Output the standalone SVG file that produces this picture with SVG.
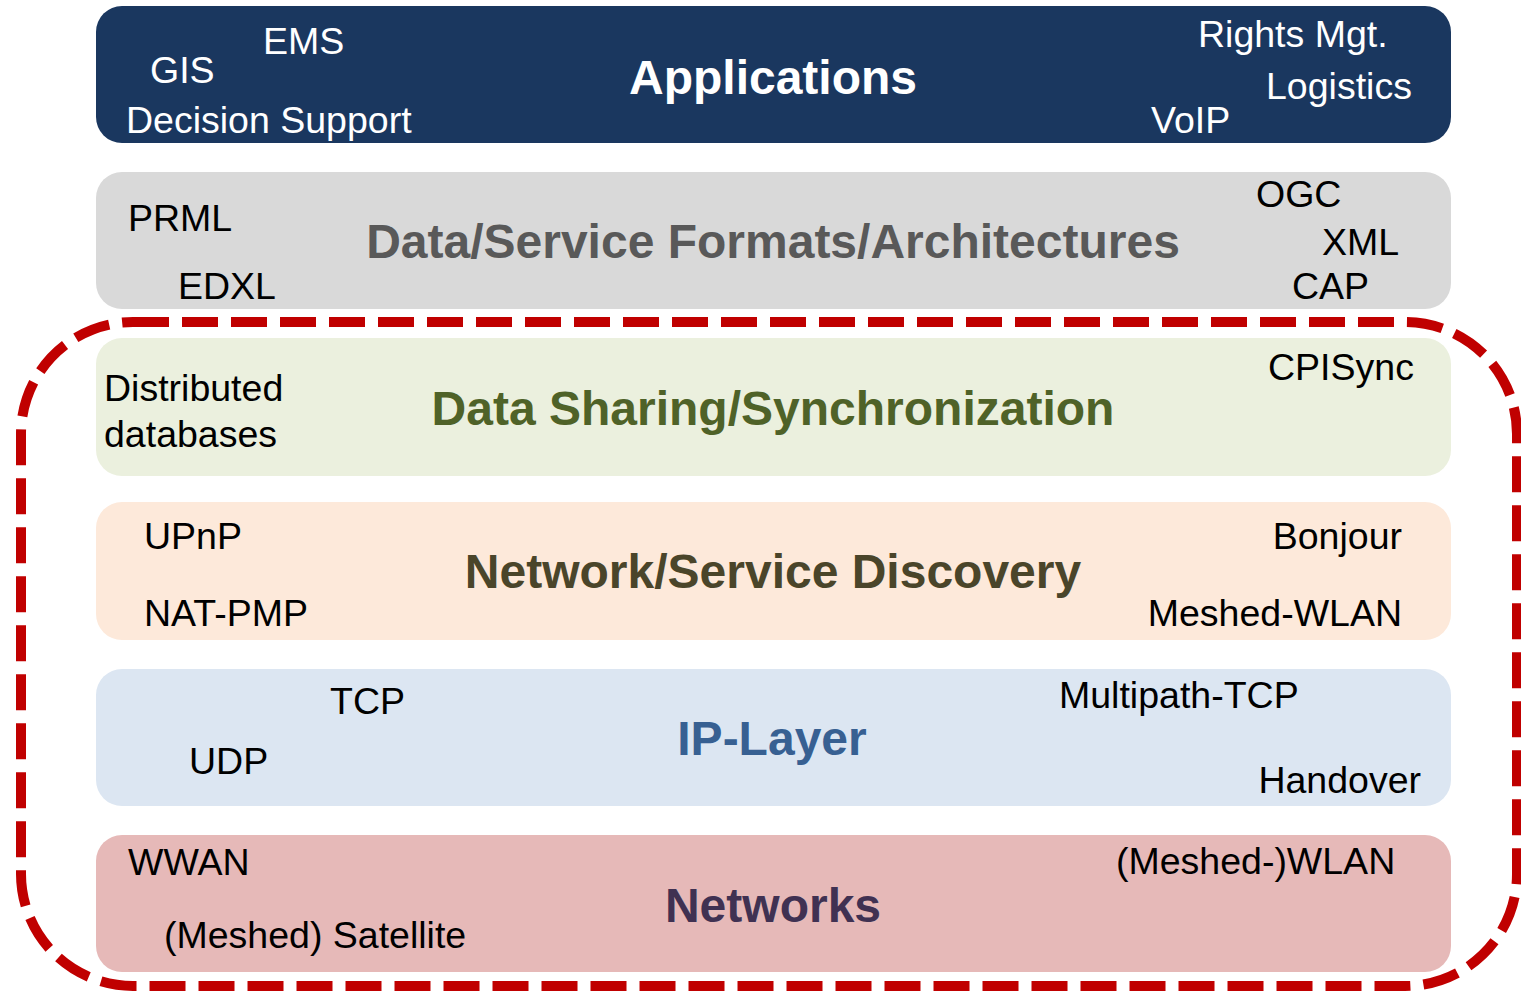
<svg xmlns="http://www.w3.org/2000/svg" width="1521" height="991" viewBox="0 0 1521 991">
  <style>
    .layer { stroke: none; }
    .title { font-family: "Liberation Sans", Arial, sans-serif; font-weight: bold; font-size: 48px; text-anchor: middle; }
    .item { font-family: "Liberation Sans", Arial, sans-serif; font-size: 37.5px; fill: #000000; }
    .item-light { fill: #ffffff; }
    .end { text-anchor: end; }
    .scope { fill: none; stroke: #c00000; stroke-width: 10; stroke-dasharray: 36 13; }
  </style>

  <rect width="1521" height="991" fill="#ffffff"/>

  <!-- Applications -->
  <g id="applications">
    <rect class="layer" x="96" y="6" width="1355" height="137" rx="26" fill="#1a375f"/>
    <text class="title" x="773" y="94" fill="#ffffff">Applications</text>
    <text class="item item-light" x="263" y="54">EMS</text>
    <text class="item item-light" x="150" y="83">GIS</text>
    <text class="item item-light" x="126" y="133">Decision Support</text>
    <text class="item item-light" x="1198" y="47">Rights Mgt.</text>
    <text class="item item-light" x="1266" y="99">Logistics</text>
    <text class="item item-light" x="1151" y="133">VoIP</text>
  </g>

  <!-- Data/Service Formats/Architectures -->
  <g id="formats">
    <rect class="layer" x="96" y="172" width="1355" height="137" rx="26" fill="#d9d9d9"/>
    <text class="title" x="773" y="258" fill="#595959">Data/Service Formats/Architectures</text>
    <text class="item" x="128" y="231">PRML</text>
    <text class="item" x="178" y="299">EDXL</text>
    <text class="item" x="1256" y="207">OGC</text>
    <text class="item" x="1322" y="255">XML</text>
    <text class="item" x="1292" y="299">CAP</text>
  </g>

  <!-- Data Sharing/Synchronization -->
  <g id="sync">
    <rect class="layer" x="96" y="338" width="1355" height="138" rx="26" fill="#ebf0de"/>
    <text class="title" x="773" y="425" fill="#4f6228">Data Sharing/Synchronization</text>
    <text class="item" x="104" y="401">Distributed</text>
    <text class="item" x="104" y="447">databases</text>
    <text class="item" x="1268" y="380">CPISync</text>
  </g>

  <!-- Network/Service Discovery -->
  <g id="discovery">
    <rect class="layer" x="96" y="502" width="1355" height="138" rx="26" fill="#fde9da"/>
    <text class="title" x="773" y="588" fill="#4a452a">Network/Service Discovery</text>
    <text class="item" x="144" y="549">UPnP</text>
    <text class="item" x="144" y="626">NAT-PMP</text>
    <text class="item end" x="1402" y="549">Bonjour</text>
    <text class="item end" x="1402" y="626">Meshed-WLAN</text>
  </g>

  <!-- IP-Layer -->
  <g id="ip-layer">
    <rect class="layer" x="96" y="669" width="1355" height="137" rx="26" fill="#dce6f2"/>
    <text class="title" x="772" y="755" fill="#376092">IP-Layer</text>
    <text class="item" x="330" y="714">TCP</text>
    <text class="item" x="189" y="774">UDP</text>
    <text class="item" x="1059" y="708">Multipath-TCP</text>
    <text class="item end" x="1421" y="793">Handover</text>
  </g>

  <!-- Networks -->
  <g id="networks">
    <rect class="layer" x="96" y="835" width="1355" height="137" rx="26" fill="#e6b9b8"/>
    <text class="title" x="773" y="922" fill="#403152">Networks</text>
    <text class="item" x="128" y="875">WWAN</text>
    <text class="item" x="164" y="948">(Meshed) Satellite</text>
    <text class="item" x="1116" y="874">(Meshed-)WLAN</text>
  </g>

  <!-- dashed boundary around the lower four layers -->
  <g id="connectors">
    <rect class="scope" x="21" y="322" width="1496" height="664" rx="112"/>
  </g>
</svg>
